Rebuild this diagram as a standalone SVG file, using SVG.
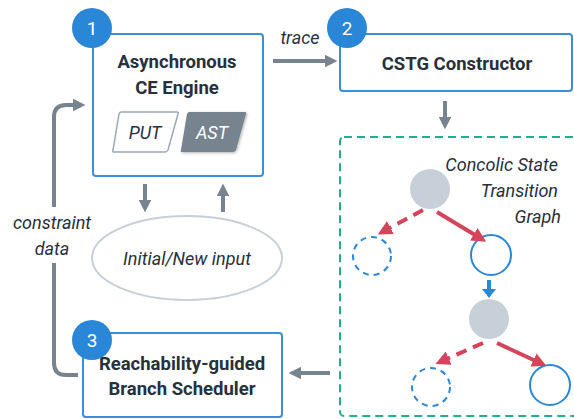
<svg xmlns="http://www.w3.org/2000/svg" width="574" height="419" viewBox="0 0 574 419">
<defs>
<style>
.box{fill:#fff;stroke:#3a8edb;stroke-width:2}
.title{font-family:Roboto,"Liberation Sans",sans-serif;font-weight:bold;font-size:18.5px;fill:#27303b;text-anchor:middle}
.it{font-family:Roboto,"Liberation Sans",sans-serif;font-style:italic;font-size:18px;fill:#27303b}
.badge{fill:#2a87d8}
.bt{font-family:Roboto,"Liberation Sans",sans-serif;font-size:19px;fill:#fff;text-anchor:middle}
.g{fill:none;stroke:#77838f;stroke-width:4}
.r{fill:none;stroke:#d4455c;stroke-width:4}
.rd{stroke-dasharray:11,7}
.gn{fill:#c7d0d8}
.on{fill:none;stroke:#2a87d8;stroke-width:2}
.dn{stroke-dasharray:6,5}
</style>
<marker id="ag" viewBox="0 0 10 10" refX="5" refY="5" markerWidth="3.2" markerHeight="3.2" orient="auto"><path d="M0,0 L10,5 L0,10 z" fill="#77838f"/></marker>
<marker id="ar" viewBox="0 0 10 10" refX="5" refY="5" markerWidth="3.6" markerHeight="3.6" orient="auto"><path d="M0,0 L10,5 L0,10 z" fill="#d4455c"/></marker>
<filter id="sh" x="-30%" y="-30%" width="160%" height="160%"><feDropShadow dx="1" dy="1" stdDeviation="1.5" flood-color="#000" flood-opacity="0.3"/></filter>
</defs>

<g id="connectors">
<line class="g" x1="273" y1="61" x2="331" y2="61" marker-end="url(#ag)"/>
<text class="it" x="300" y="44" text-anchor="middle">trace</text>
<line class="g" x1="445" y1="101" x2="445" y2="123" marker-end="url(#ag)"/>
<line class="g" x1="145" y1="184" x2="145" y2="206" marker-end="url(#ag)"/>
<line class="g" x1="223" y1="212" x2="223" y2="190" marker-end="url(#ag)"/>
<line class="g" x1="330" y1="373" x2="295" y2="373" marker-end="url(#ag)"/>
<path class="g" d="M78,375 H66 Q54,375 54,363 V263"/>
<path class="g" d="M54,207 V117 Q54,105 66,105 H79" marker-end="url(#ag)"/>
<text class="it" x="52" y="229" text-anchor="middle">constraint</text>
<text class="it" x="52" y="255" text-anchor="middle">data</text>
</g>

<g id="node1">
<rect class="box" x="93" y="34" width="170" height="142" rx="3"/>
<text class="title" x="177" y="68">Asynchronous</text>
<text class="title" x="177" y="94">CE Engine</text>
<path d="M121,112 H177 Q179,112 178,114 L168,150 Q167,152 165,152 H114 Q112,152 113,150 L119,114 Q120,112 121,112 z" fill="#fff" stroke="#9aa8b6" stroke-width="1.5"/>
<text class="it" x="145" y="139" text-anchor="middle">PUT</text>
<path d="M189,112 H245 Q247,112 246,114 L236,150 Q235,152 233,152 H182 Q180,152 181,150 L187,114 Q188,112 189,112 z" fill="#77838f" filter="url(#sh)"/>
<text class="it" x="212" y="139" text-anchor="middle" style="fill:#fff">AST</text>
<circle class="badge" cx="92" cy="28" r="20"/>
<text class="bt" x="92" y="35">1</text>
</g>

<g id="node2">
<rect class="box" x="340" y="34" width="232" height="57" rx="3"/>
<text class="title" x="457" y="70">CSTG Constructor</text>
<circle class="badge" cx="347" cy="28" r="20"/>
<text class="bt" x="347" y="35">2</text>
</g>

<g id="node-input">
<ellipse cx="187" cy="258" rx="95" ry="42" fill="#fff" stroke="#c7d0d8" stroke-width="2"/>
<text class="it" x="187" y="265" text-anchor="middle">Initial/New input</text>
</g>

<g id="node3">
<rect class="box" x="83" y="333" width="199" height="84" rx="3"/>
<text class="title" x="182" y="370">Reachability-guided</text>
<text class="title" x="182" y="395">Branch Scheduler</text>
<circle class="badge" cx="92" cy="340" r="20"/>
<text class="bt" x="92" y="347">3</text>
</g>

<g id="cstg">
<rect x="340" y="137" width="250" height="279" rx="4" fill="none" stroke="#21ad92" stroke-width="2" stroke-dasharray="8,5"/>
<text class="it" x="558" y="171" text-anchor="end">Concolic State</text>
<text class="it" x="558" y="197" text-anchor="end">Transition</text>
<text class="it" x="561" y="223" text-anchor="end">Graph</text>
<circle class="gn" cx="430" cy="189" r="20"/>
<circle class="on dn" cx="372" cy="256" r="19"/>
<circle class="on" cx="491" cy="255" r="20"/>
<circle class="gn" cx="489" cy="319" r="20"/>
<circle class="on dn" cx="431" cy="387" r="19"/>
<circle class="on" cx="550" cy="385" r="20"/>
<line class="r rd" x1="423" y1="210" x2="384" y2="231" marker-end="url(#ar)"/>
<line class="r" x1="437" y1="212" x2="480" y2="238" marker-end="url(#ar)"/>
<line class="r rd" x1="483" y1="343" x2="442" y2="361" marker-end="url(#ar)"/>
<line class="r" x1="497" y1="343" x2="540" y2="363" marker-end="url(#ar)"/>
<line x1="489" y1="280" x2="489" y2="291" stroke="#2a87d8" stroke-width="4"/>
<path d="M482,289 L496,289 L489,298 z" fill="#2a87d8"/>
</g>
</svg>
